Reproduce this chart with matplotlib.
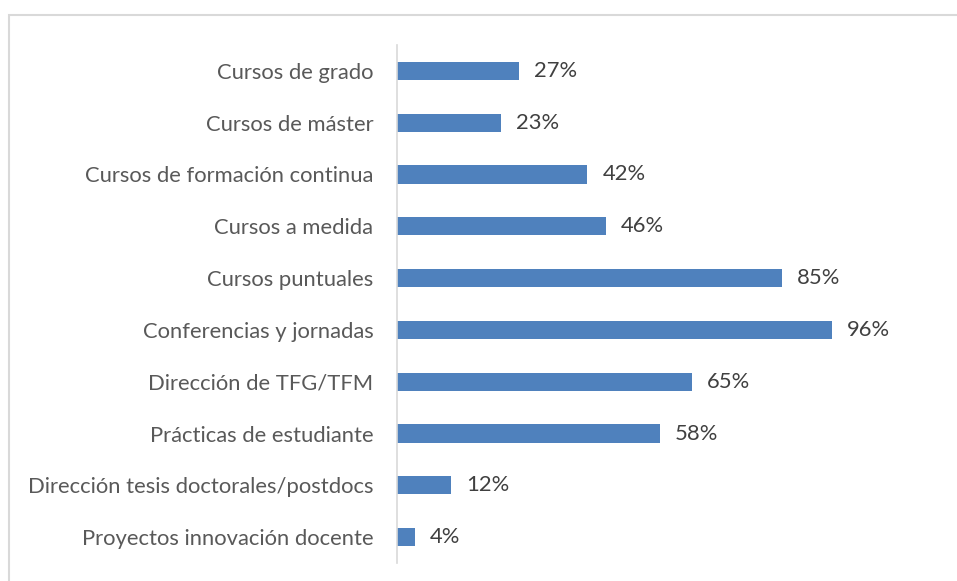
import matplotlib.pyplot as plt
from matplotlib.patches import Rectangle

categorias = ['Cursos de grado', 'Cursos de máster', 'Cursos de formación continua',
              'Cursos a medida', 'Cursos puntuales', 'Conferencias y jornadas',
              'Dirección de TFG/TFM', 'Prácticas de estudiante',
              'Dirección tesis doctorales/postdocs', 'Proyectos innovación docente']
valores = [27, 23, 42, 46, 85, 96, 65, 58, 12, 4]

W, H = 957, 581
plt.rcParams['font.family'] = ['Lato', 'DejaVu Sans']
fig = plt.figure(figsize=(W/100, H/100), dpi=100)

# marco gris claro (solo se ve arriba y a la izquierda)
fig.patches.append(Rectangle((9/W, -0.05), 1.1, 1.05 - 15/H, transform=fig.transFigure,
                             fill=False, edgecolor='#D9D9D9', linewidth=1.5))

# area de trazado: x 397..941 (0..120%), y 45..563
ax = fig.add_axes([397/W, 1 - 563/H, (941-397)/W, (563-45)/H])
y = list(range(len(categorias)))
ax.barh(y, valores, height=0.35, color='#4F81BD')
ax.set_xlim(0, 120)
ax.set_ylim(len(categorias) - 0.5, -0.5)
ax.set_yticks(y)
ax.set_yticklabels(categorias, fontsize=15.8, color='#595959')
ax.tick_params(axis='y', length=0, pad=17)
ax.set_xticks([])
for s in ['top', 'right', 'bottom']:
    ax.spines[s].set_visible(False)
ax.spines['left'].set_color('#D9D9D9')
ax.spines['left'].set_linewidth(1.2)

for yi, v in zip(y, valores):
    ax.text(v + 3.3, yi, f'{v}%', va='center', ha='left', fontsize=15.8, color='#404040')

fig.savefig('out.png', dpi=100)
